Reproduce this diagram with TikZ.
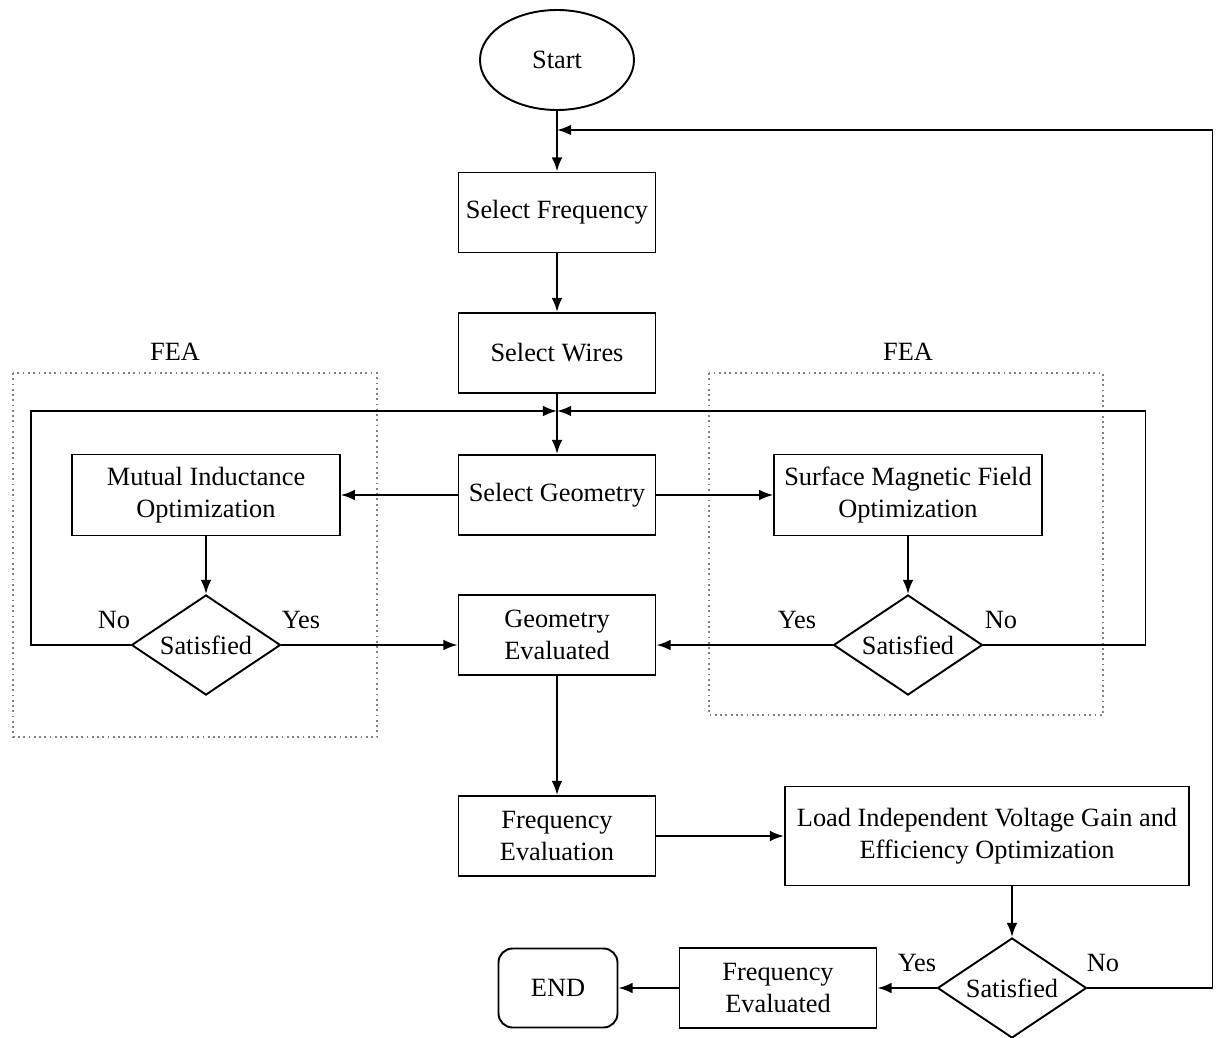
\documentclass[tikz,border=0pt]{standalone}
\usepackage{fontspec}
\setmainfont{Liberation Serif}
\usetikzlibrary{shapes.geometric,arrows.meta}

\begin{document}
\begin{tikzpicture}[>={Latex[length=8pt,width=6pt]}, line width=1.1pt,
		every node/.style={font=\rmfamily\fontsize{15}{18}\selectfont},
		box/.style={draw, rectangle, align=center, minimum width=3.94cm, minimum height=1.6cm},
		widebox/.style={box, minimum width=5.35cm, minimum height=1.62cm},
		dec/.style={draw, diamond, aspect=1.5, inner sep=0pt, minimum width=2.98cm, minimum height=2cm},
		fea/.style={draw=gray, dotted, line width=1pt}]
		\useasboundingbox (0,0) rectangle (24.64,-20.76);

		% FEA regions
		\draw[fea] (0.26,-7.46) rectangle (7.54,-14.74);
		\draw[fea] (14.18,-7.46) rectangle (22.06,-14.3);
		\node (fea1) at (3.5,-7.04) {FEA};
		\node (fea2) at (18.16,-7.04) {FEA};

		% main column
		\node[draw, ellipse, minimum width=3.08cm, minimum height=2cm] (start) at (11.14,-1.2) {Start};
		\node[box] (sf) at (11.14,-4.25) {Select Frequency};
		\node[box] (sw) at (11.14,-7.06) {Select Wires};
		\node[box] (sg) at (11.14,-9.9) {Select Geometry};
		\node[box] (ge) at (11.14,-12.7) {Geometry\\Evaluated};
		\node[box] (fe) at (11.14,-16.72) {Frequency\\Evaluation};
		\node[draw, rectangle, rounded corners=8pt, minimum width=2.38cm, minimum height=1.58cm] (end) at (11.16,-19.76) {END};

		% side branches
		\node[widebox] (mio) at (4.12,-9.9) {Mutual Inductance\\Optimization};
		\node[dec] (sat1) at (4.12,-12.9) {Satisfied};
		\node[widebox] (smfo) at (18.16,-9.9) {Surface Magnetic Field\\Optimization};
		\node[dec] (sat2) at (18.16,-12.9) {Satisfied};
		\node[box, minimum width=8.08cm, minimum height=1.98cm] (liv) at (19.74,-16.72) {Load Independent Voltage Gain and\\Efficiency Optimization};
		\node[dec] (sat3) at (20.24,-19.76) {Satisfied};
		\node[box] (fev) at (15.56,-19.76) {Frequency\\Evaluated};

		\coordinate (jt) at (11.14,-2.6);
		\coordinate (jg) at (11.14,-8.22);

		\draw[->] (start) -- (sf);
		\draw[->] (sf) -- (sw);
		\draw[->] (sw) -- (sg);
		\draw[->] (sg) -- (mio);
		\draw[->] (sg) -- (smfo);
		\draw[->] (mio) -- (sat1);
		\draw[->] (smfo) -- (sat2);
		\draw[->] (sat1.east) -- (sat1.east -| ge.west);
		\draw[->] (sat2.west) -- (sat2.west -| ge.east);
		\draw[->] (sat1.west) -- ++(-2,0) |- (jg);
		\draw[->] (sat2.east) -- ++(3.24,0) |- (jg);
		\draw[->] (ge) -- (fe);
		\draw[->] (fe) -- (liv);
		\draw[->] (sat3.north |- liv.south) -- (sat3.north);
		\draw[->] (sat3.west) -- (fev.east);
		\draw[->] (fev) -- (end);
		\draw[->] (sat3.east) -- ++(2.5,0) |- (jt);

		% yes / no
		\node (no1) at (2.28,-12.4) {No};
		\node (yes1) at (6.02,-12.4) {Yes};
		\node (yes2) at (15.94,-12.4) {Yes};
		\node (no2) at (20.02,-12.4) {No};
		\node (yes3) at (18.34,-19.26) {Yes};
		\node (no3) at (22.06,-19.26) {No};
	\end{tikzpicture}
\end{document}
